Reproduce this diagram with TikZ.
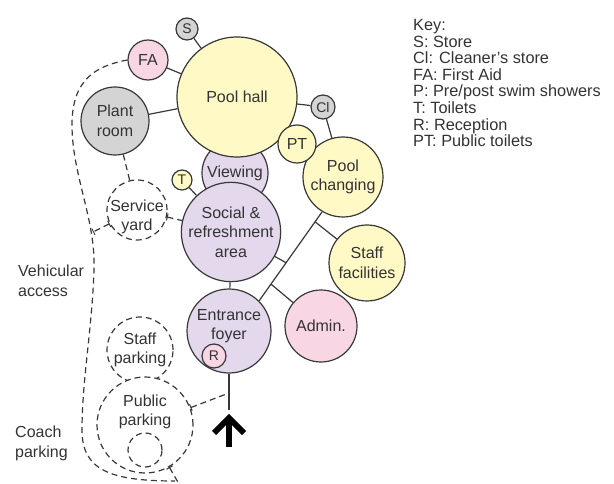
\documentclass[tikz,border=0pt]{standalone}
\usepackage{fontspec}
\setmainfont{Liberation Sans}
\usetikzlibrary{calc,arrows.meta}
\definecolor{ylw}{HTML}{FFF9C6}
\definecolor{pnk}{HTML}{F8D6E4}
\definecolor{gry}{HTML}{D4D4D4}
\definecolor{lav}{HTML}{E3D8EC}
\definecolor{edge}{HTML}{383838}
\definecolor{txt}{HTML}{333333}
\begin{document}
\begin{tikzpicture}[x=1pt,y=-1pt,
  room/.style={circle, draw=edge, line width=1.2pt, inner sep=0pt, align=center, text=txt,
    font=\fontsize{16}{19.5}\selectfont},
  droom/.style={room, fill=white, dash pattern=on 6pt off 4pt},
  small/.style={room, font=\fontsize{14}{16}\selectfont},
  link/.style={draw=edge, line width=1.2pt},
  dlink/.style={link, dash pattern=on 6pt off 4pt},
  tickA/.style={{Bar[width=7pt,line width=1pt,sep=0pt]}-},
  tickB/.style={{Bar[width=7pt,line width=1pt]}-{Bar[width=7pt,line width=1pt]}},
  lbl/.style={align=left, inner sep=0pt, text=txt, font=\fontsize{16}{19.5}\selectfont},
  keytext/.style={align=left, inner sep=0pt, text=txt, font=\fontsize{16.3}{16.6}\selectfont}]
\useasboundingbox (0,0) rectangle (614,484);

% background rooms (drawn first so others overlap)
\node[room, fill=lav, minimum size=66pt] (viewing) at (235,173) {Viewing};
\node[room, fill=ylw, minimum size=120pt] (pool) at (237,97) {Pool hall};
\node[small, fill=gry, minimum size=22pt] (store) at (187,29) {S};
\node[room, fill=pnk, minimum size=40pt] (fa) at (148,60) {FA};
\node[room, fill=gry, minimum size=68pt] (plant) at (115,121) {Plant\\room};
\node[room, fill=lav, minimum size=98pt] (social) at (231,232) {Social \&\\refreshment\\area};
\node[small, fill=ylw, minimum size=20pt] (toilets) at (182,180) {T};
\node[room, fill=ylw, minimum size=80pt] (changing) at (343,177) {Pool\\changing};
\node[room, fill=ylw, minimum size=38pt] (pt) at (297,144) {PT};
\node[small, fill=gry, minimum size=24pt] (cl) at (323,107) {Cl};
\node[room, fill=ylw, minimum size=76pt] (staff) at (367,263) {Staff\\facilities};
\node[room, fill=lav, minimum size=84pt] (foyer) at (229,331) {};
\node[lbl, align=center] (foyertext) at (229,326) {Entrance\\foyer};
\node[small, fill=pnk, minimum size=24pt] (rec) at (214,356) {R};
\node[room, fill=pnk, minimum size=72pt] (admin) at (321,326) {Admin.};
\node[droom, minimum size=60pt] (service) at (137,210) {};
\node[lbl, align=center] (servicetext) at (137,217) {Service\\yard};
\node[droom, minimum size=66pt] (staffpark) at (140,350) {Staff\\parking};
\node[droom, minimum size=96pt] (publicpark) at (145,425) {};
\node[lbl, align=center] (publictext) at (145,412) {Public\\parking};
\node[droom, minimum size=34pt] (coachbay) at (145,450) {};

% solid connectors
\draw[link] (store) -- (pool);
\draw[link] (fa) -- (pool);
\draw[link] (plant) -- (pool);
\draw[link] (pool) -- (cl);
\draw[link] (cl) -- (changing);
\draw[link] (toilets) -- (social);
\draw[link] (social) -- (foyer);

% corridor
\coordinate (c1) at (322,212);
\coordinate (c2) at (259,301);
\draw[link] (c1) -- (c2);
\coordinate (jstaff) at ($(c1)!0.11!(c2)$);
\coordinate (jsocial) at ($(c1)!0.57!(c2)$);
\coordinate (jadmin) at ($(c1)!0.81!(c2)$);
\draw[link] (jstaff) -- (staff);
\draw[link] (jsocial) -- (social);
\draw[link] (jadmin) -- (admin);

% approach
\coordinate (atop) at (229,410);
\coordinate (jpark) at (229,393);
\draw[link] (foyer) -- (atop);
\draw[line width=6pt, line cap=butt] (229,447) -- (229,420);
\draw[line width=6pt, miter limit=10] (214,433) -- (229,418) -- (244,433);

% dashed links
\draw[dlink] (plant) -- (service);
\draw[dlink, tickA] (service) -- (social);
\coordinate (rs) at (93,232);
\draw[dlink, tickB] (service) -- (rs);
\draw[dlink, tickA] (publicpark) -- (jpark);
\coordinate (bend) at (179,484);
\draw[dlink, tickA] (publicpark) -- (bend);

% vehicular road
\draw[dlink] (fa.west) .. controls (95,66) and (72,80) .. (72,125)
  .. controls (72,175) and (96,220) .. (94,270)
  .. controls (92,330) and (82,380) .. (82,430)
  .. controls (82,470) and (110,481) .. (175,481);

% labels
\node[lbl, anchor=north west] (veh) at (18,265) {Vehicular\\access};
\node[lbl, anchor=north west] (coach) at (15,426) {Coach\\parking};
\node[keytext, anchor=north west] (key) at (413,19) {Key:\\S: Store\\Cl: Cleaner's store\\FA: First Aid\\P: Pre/post swim showers\\T: Toilets\\R: Reception\\PT: Public toilets};
\end{tikzpicture}
\end{document}
